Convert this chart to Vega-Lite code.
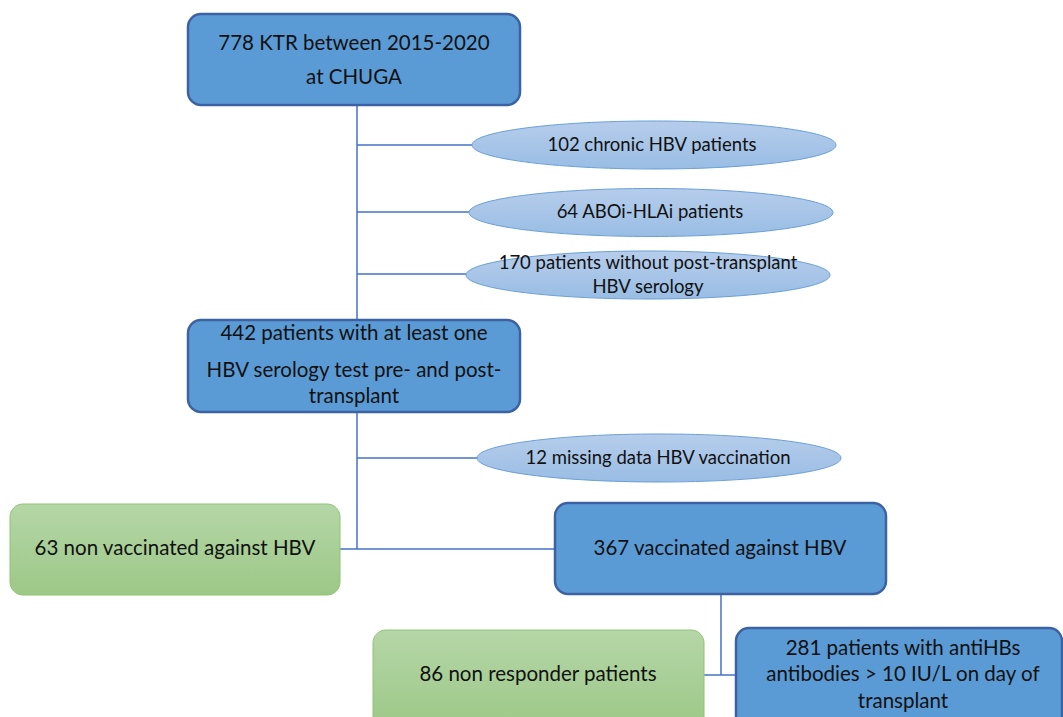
{
  "$schema": "https://vega.github.io/schema/vega-lite/v6.json",
  "width": 1063,
  "height": 717,
  "autosize": {"type": "fit", "contains": "padding"},
  "padding": 0,
  "background": "white",
  "config": {"view": {"stroke": null}},
  "datasets": {
    "links": [
      {"x": 357, "x2": 357, "y": 105, "y2": 320},
      {"x": 357, "x2": 472, "y": 145, "y2": 145},
      {"x": 357, "x2": 469, "y": 212, "y2": 212},
      {"x": 357, "x2": 466, "y": 274, "y2": 274},
      {"x": 357, "x2": 357, "y": 412, "y2": 549},
      {"x": 357, "x2": 478, "y": 458, "y2": 458},
      {"x": 340, "x2": 555, "y": 549, "y2": 549},
      {"x": 721, "x2": 721, "y": 594, "y2": 675},
      {"x": 704, "x2": 736, "y": 675, "y2": 675}
    ],
    "boxes": [
      {"kind": "blue", "x": 188, "x2": 520, "y": 14, "y2": 105},
      {"kind": "blue", "x": 188, "x2": 520, "y": 320, "y2": 412},
      {"kind": "blue", "x": 555, "x2": 886, "y": 503, "y2": 594},
      {"kind": "blue", "x": 736, "x2": 1062, "y": 628, "y2": 730},
      {"kind": "green", "x": 10, "x2": 340, "y": 504, "y2": 595},
      {"kind": "green", "x": 373, "x2": 704, "y": 630, "y2": 730}
    ],
    "ovals": [
      {"x": 654, "y": 145},
      {"x": 651, "y": 212.5},
      {"x": 648, "y": 275},
      {"x": 659, "y": 458}
    ],
    "labels": [
      {"kind": "box", "x": 354, "y": 44, "label": "778 KTR between 2015-2020"},
      {"kind": "box", "x": 354, "y": 78, "label": "at CHUGA"},
      {"kind": "oval", "x": 652, "y": 145, "label": "102 chronic HBV patients"},
      {"kind": "oval", "x": 650, "y": 212, "label": "64 ABOi-HLAi patients"},
      {"kind": "oval", "x": 648, "y": 263, "label": "170 patients without post-transplant"},
      {"kind": "oval", "x": 648, "y": 287, "label": "HBV serology"},
      {"kind": "box", "x": 354, "y": 334, "label": "442 patients with at least one"},
      {"kind": "box", "x": 354, "y": 371, "label": "HBV serology test pre- and post-"},
      {"kind": "box", "x": 354, "y": 397, "label": "transplant"},
      {"kind": "oval", "x": 658, "y": 458, "label": "12 missing data HBV vaccination"},
      {"kind": "box", "x": 175, "y": 549, "label": "63 non vaccinated against HBV"},
      {"kind": "box", "x": 720, "y": 549, "label": "367 vaccinated against HBV"},
      {"kind": "box", "x": 538, "y": 675, "label": "86 non responder patients"},
      {"kind": "box", "x": 903, "y": 649, "label": "281 patients with antiHBs"},
      {"kind": "box", "x": 903, "y": 675, "label": "antibodies > 10 IU/L on day of"},
      {"kind": "box", "x": 903, "y": 702, "label": "transplant"}
    ]
  },
  "layer": [
    {
      "data": {"name": "links"},
      "mark": {"type": "rule", "color": "#4472C4", "strokeWidth": 1.5},
      "encoding": {
        "x": {"field": "x", "type": "quantitative", "scale": {"domain": [0, 1063]}, "axis": null},
        "x2": {"field": "x2"},
        "y": {"field": "y", "type": "quantitative", "scale": {"domain": [0, 717], "reverse": true}, "axis": null},
        "y2": {"field": "y2"}
      }
    },
    {
      "data": {"name": "boxes"},
      "transform": [{"filter": "datum.kind === 'blue'"}],
      "mark": {"type": "rect", "clip": true, "fill": "#5B9BD5", "stroke": "#3C62A3", "strokeWidth": 2.5, "cornerRadius": 13},
      "encoding": {
        "x": {"field": "x", "type": "quantitative", "scale": {"domain": [0, 1063]}, "axis": null},
        "x2": {"field": "x2"},
        "y": {"field": "y", "type": "quantitative", "scale": {"domain": [0, 717], "reverse": true}, "axis": null},
        "y2": {"field": "y2"}
      }
    },
    {
      "data": {"name": "boxes"},
      "transform": [{"filter": "datum.kind === 'green'"}],
      "mark": {"type": "rect", "clip": true, "stroke": "#8FC46F", "strokeWidth": 1, "cornerRadius": 13,
        "fill": {"gradient": "linear", "x1": 0, "y1": 0, "x2": 0, "y2": 1,
          "stops": [{"offset": 0, "color": "#B5D6A7"}, {"offset": 1, "color": "#9CC887"}]}},
      "encoding": {
        "x": {"field": "x", "type": "quantitative", "scale": {"domain": [0, 1063]}, "axis": null},
        "x2": {"field": "x2"},
        "y": {"field": "y", "type": "quantitative", "scale": {"domain": [0, 717], "reverse": true}, "axis": null},
        "y2": {"field": "y2"}
      }
    },
    {
      "data": {"name": "ovals"},
      "mark": {"type": "point", "filled": true, "opacity": 1, "size": 132496,
        "shape": "M-1,0C-1,-0.0729 -0.5523,-0.1319 0,-0.1319C0.5523,-0.1319 1,-0.0729 1,0C1,0.0729 0.5523,0.1319 0,0.1319C-0.5523,0.1319 -1,0.0729 -1,0Z",
        "stroke": "#6A9FD8", "strokeWidth": 1, "strokeOpacity": 1,
        "fill": {"gradient": "linear", "x1": 0, "y1": 0, "x2": 0, "y2": 1,
          "stops": [{"offset": 0, "color": "#B6CDEB"}, {"offset": 1, "color": "#99BDE4"}]}},
      "encoding": {
        "x": {"field": "x", "type": "quantitative", "scale": {"domain": [0, 1063]}, "axis": null},
        "y": {"field": "y", "type": "quantitative", "scale": {"domain": [0, 717], "reverse": true}, "axis": null}
      }
    },
    {
      "data": {"name": "labels"},
      "transform": [{"filter": "datum.kind === 'box'"}],
      "mark": {"type": "text", "font": "Lato", "fontSize": 20.5, "color": "#111111", "align": "center", "baseline": "middle"},
      "encoding": {
        "x": {"field": "x", "type": "quantitative", "scale": {"domain": [0, 1063]}, "axis": null},
        "y": {"field": "y", "type": "quantitative", "scale": {"domain": [0, 717], "reverse": true}, "axis": null},
        "text": {"field": "label"}
      }
    },
    {
      "data": {"name": "labels"},
      "transform": [{"filter": "datum.kind === 'oval'"}],
      "mark": {"type": "text", "font": "Lato", "fontSize": 18.5, "color": "#111111", "align": "center", "baseline": "middle"},
      "encoding": {
        "x": {"field": "x", "type": "quantitative", "scale": {"domain": [0, 1063]}, "axis": null},
        "y": {"field": "y", "type": "quantitative", "scale": {"domain": [0, 717], "reverse": true}, "axis": null},
        "text": {"field": "label"}
      }
    }
  ]
}
